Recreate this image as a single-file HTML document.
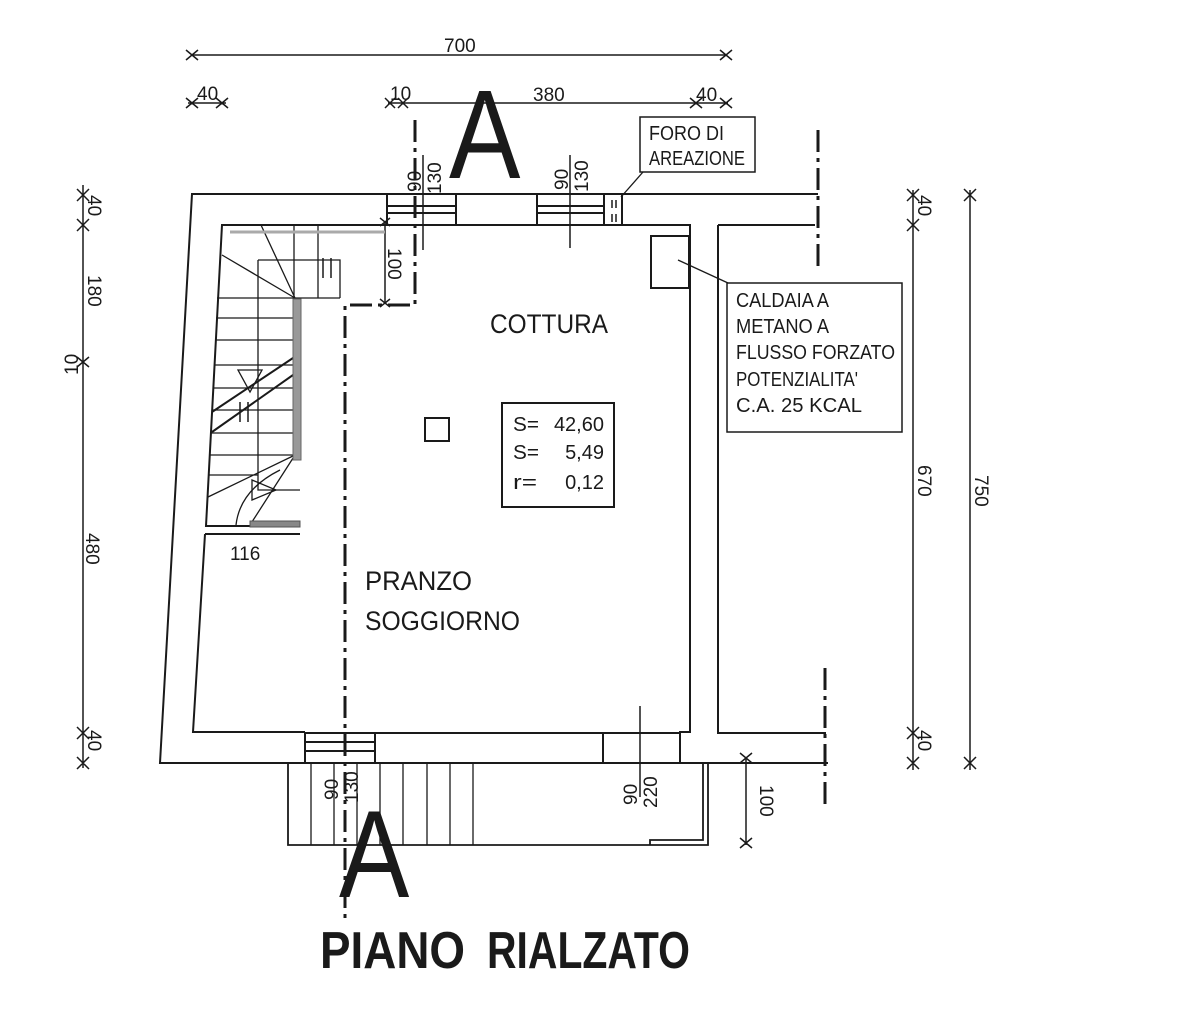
<!DOCTYPE html>
<html><head><meta charset="utf-8"><style>
html,body{margin:0;padding:0;background:#fff;}
svg{display:block;}
text{font-family:"Liberation Sans Narrow","Liberation Sans",sans-serif;fill:#1a1a1a;}
</style></head><body>
<svg width="1196" height="1020" viewBox="0 0 1196 1020" xmlns="http://www.w3.org/2000/svg">
<g stroke="#1a1a1a" stroke-width="2" fill="none">
<line x1="192" y1="55" x2="726" y2="55" stroke-width="1.5"/>
<path d="M186,50l12,10M186,60l12,-10M720,50l12,10M720,60l12,-10" stroke-width="1.5"/>
<line x1="188" y1="103" x2="226" y2="103" stroke-width="1.5"/>
<line x1="388" y1="103" x2="728" y2="103" stroke-width="1.5"/>
<path d="M186,98l12,10M186,108l12,-10M216,98l12,10M216,108l12,-10M385,98l10,10M385,108l10,-10M398,98l10,10M398,108l10,-10M690,98l12,10M690,108l12,-10M720,98l12,10M720,108l12,-10" stroke-width="1.5"/>
<line x1="83" y1="185" x2="83" y2="768" stroke-width="1.5"/>
<path d="M77,189l12,12M77,201l12,-12M77,219l12,12M77,231l12,-12M77,357l12,10M77,367l12,-10M77,727l12,12M77,739l12,-12M77,757l12,12M77,769l12,-12" stroke-width="1.5"/>
<line x1="913" y1="190" x2="913" y2="770" stroke-width="1.5"/>
<path d="M907,189l12,12M907,201l12,-12M907,219l12,12M907,231l12,-12M907,727l12,12M907,739l12,-12M907,757l12,12M907,769l12,-12" stroke-width="1.5"/>
<line x1="970" y1="190" x2="970" y2="770" stroke-width="1.5"/>
<path d="M964,189l12,12M964,201l12,-12M964,757l12,12M964,769l12,-12" stroke-width="1.5"/>
<line x1="746" y1="758" x2="746" y2="845" stroke-width="1.5"/>
<path d="M740,753l12,10M740,763l12,-10M740,838l12,10M740,848l12,-10" stroke-width="1.5"/>
<path d="M387,194 L192,194 L160,763 L305,763"/>
<path d="M387,194 L387,225 L222,225 L206,526 L300,526"/>
<path d="M205,534 L300,534 M205,534 L193,732 L305,732"/>
<path d="M387,194 H456 M387,206 H456 M387,213 H456 M387,225 H456"/>
<rect x="456" y="194" width="81" height="31"/>
<path d="M537,194 H604 M537,206 H604 M537,213 H604 M537,225 H604"/>
<rect x="604" y="194" width="18" height="31"/>
<path d="M612,200 v8 M616,200 v8 M612,214 v8 M616,214 v8" stroke-width="1.5"/>
<path d="M622,194 H818 M622,225 H690 V732 H680 V763"/>
<path d="M718,225 H815 M718,225 V733 H826"/>
<path d="M680,763 H828"/>
<path d="M305,733 V763 M305,742 H375 M305,751 H375 M305,733 H375 M305,763 H375"/>
<rect x="375" y="733" width="228" height="30"/>
<path d="M603,733 H680 M603,763 H680"/>
<line x1="423" y1="155" x2="423" y2="250" stroke-width="1.5"/>
<line x1="570" y1="155" x2="570" y2="248" stroke-width="1.5"/>
<line x1="640" y1="706" x2="640" y2="797" stroke-width="1.5"/>
<line x1="385" y1="222" x2="385" y2="303" stroke-width="1.5"/>
<path d="M380,218l10,8M380,226l10,-8M380,299l10,8M380,307l10,-8" stroke-width="1.5"/>
<g stroke-width="1.3">
<path d="M258,260 H340 V298 M258,260 V490 H300"/>
<path d="M295,298 H340 M295,299 V460"/>
<path d="M318,225 V298 M294,225 V298 M261,225 L295,298 M222,255 L295,298"/>
<path d="M217,298 H295 M216,318 H295 M215,340 H295 M214,365 H295 M213,388 H295 M212,410 H295 M211,433 H295 M210,455 H295 M209,475 H258 M208,497 L295,455"/>
<path d="M212,412 L293,358 M212,432 L293,375" stroke-width="2"/>
<path d="M238,370 H262 L250,392 Z M252,480 L276,490 L252,500 Z"/>
<path d="M236,525 Q240,490 280,470 M250,525 L295,455"/>
<path d="M323,258 v20 M331,258 v20 M240,402 v20 M248,402 v20" stroke-width="1.5"/>
</g>
<path d="M293,299 H301 V460 H293 Z" fill="#999" stroke="#666" stroke-width="1"/>
<rect x="250" y="521" width="50" height="6" fill="#888" stroke="#555" stroke-width="1"/>
<path d="M230,232 H385" stroke="#aaa" stroke-width="3"/>
<path d="M415,120 V305 H345 V920" stroke-width="3" stroke-dasharray="22,6,4,6"/>
<path d="M818,130 V270" stroke-width="3" stroke-dasharray="22,6,4,6"/>
<path d="M825,668 V806" stroke-width="3" stroke-dasharray="22,6,4,6"/>
<path d="M288,764 V845 H708 V764 M703,764 V840 H650 V845" stroke-width="1.8"/>
<path d="M311,764 V845 M334,764 V845 M357,764 V845 M380,764 V845 M403,764 V845 M427,764 V845 M450,764 V845 M473,764 V845" stroke-width="1.3"/>
<rect x="651" y="236" width="38" height="52"/>
<line x1="678" y1="260" x2="728" y2="283" stroke-width="1.3"/>
<rect x="727" y="283" width="175" height="149" stroke-width="1.5"/>
<rect x="640" y="117" width="115" height="55" stroke-width="1.5"/>
<line x1="621" y1="197" x2="643" y2="172" stroke-width="1.3"/>
<rect x="425" y="418" width="24" height="23"/>
<rect x="502" y="403" width="112" height="104"/>
</g>
<g font-size="19">
<text x="444" y="52">700</text>
<text x="197" y="100">40</text>
<text x="390" y="100">10</text>
<text x="533" y="101">380</text>
<text x="696" y="101">40</text>
<text x="230" y="560">116</text>
<g transform="translate(760,785) rotate(90)"><text>100</text></g>
<g transform="translate(388,248) rotate(90)"><text>100</text></g>
<g transform="translate(88,195) rotate(90)"><text>40</text></g>
<g transform="translate(88,275) rotate(90)"><text>180</text></g>
<g transform="translate(78,375) rotate(-90)"><text>10</text></g>
<g transform="translate(86,533) rotate(90)"><text>480</text></g>
<g transform="translate(88,730) rotate(90)"><text>40</text></g>
<g transform="translate(918,195) rotate(90)"><text>40</text></g>
<g transform="translate(918,465) rotate(90)"><text>670</text></g>
<g transform="translate(918,730) rotate(90)"><text>40</text></g>
<g transform="translate(975,475) rotate(90)"><text>750</text></g>
<g transform="translate(421,192) rotate(-90)"><text>90</text></g>
<g transform="translate(441,194) rotate(-90)"><text>130</text></g>
<g transform="translate(568,190) rotate(-90)"><text>90</text></g>
<g transform="translate(588,192) rotate(-90)"><text>130</text></g>
<g transform="translate(338,800) rotate(-90)"><text>90</text></g>
<g transform="translate(358,803) rotate(-90)"><text>130</text></g>
<g transform="translate(637,805) rotate(-90)"><text>90</text></g>
<g transform="translate(657,808) rotate(-90)"><text>220</text></g>
</g>
<g font-size="20">
<text x="649" y="140" textLength="75" lengthAdjust="spacingAndGlyphs">FORO DI</text>
<text x="649" y="165" textLength="96" lengthAdjust="spacingAndGlyphs">AREAZIONE</text>
<text x="736" y="307" textLength="93" lengthAdjust="spacingAndGlyphs">CALDAIA A</text>
<text x="736" y="333" textLength="93" lengthAdjust="spacingAndGlyphs">METANO A</text>
<text x="736" y="359" textLength="159" lengthAdjust="spacingAndGlyphs">FLUSSO FORZATO</text>
<text x="736" y="386" textLength="122" lengthAdjust="spacingAndGlyphs">POTENZIALITA'</text>
<text x="736" y="412" textLength="126" lengthAdjust="spacingAndGlyphs">C.A. 25 KCAL</text>
<text x="513" y="431" textLength="26" lengthAdjust="spacingAndGlyphs">S=</text>
<text x="513" y="459" textLength="26" lengthAdjust="spacingAndGlyphs">S=</text>
<text x="513" y="489" textLength="24" lengthAdjust="spacingAndGlyphs">r=</text>
<text x="604" y="431" text-anchor="end">42,60</text>
<text x="604" y="459" text-anchor="end">5,49</text>
<text x="604" y="489" text-anchor="end">0,12</text>
</g>
<g font-size="27">
<text x="490" y="333" textLength="118" lengthAdjust="spacingAndGlyphs">COTTURA</text>
<text x="365" y="590" textLength="107" lengthAdjust="spacingAndGlyphs">PRANZO</text>
<text x="365" y="630" textLength="155" lengthAdjust="spacingAndGlyphs">SOGGIORNO</text>
</g>
<text x="449" y="178" font-size="126" transform="translate(449,178) scale(0.85,1) translate(-449,-178)">A</text>
<text x="339" y="897" font-size="124" transform="translate(339,897) scale(0.85,1) translate(-339,-897)">A</text>
<text x="320" y="968" font-size="52" font-weight="bold" textLength="145" lengthAdjust="spacingAndGlyphs">PIANO</text>
<text x="487" y="968" font-size="52" font-weight="bold" textLength="203" lengthAdjust="spacingAndGlyphs">RIALZATO</text>
</svg>
</body></html>
